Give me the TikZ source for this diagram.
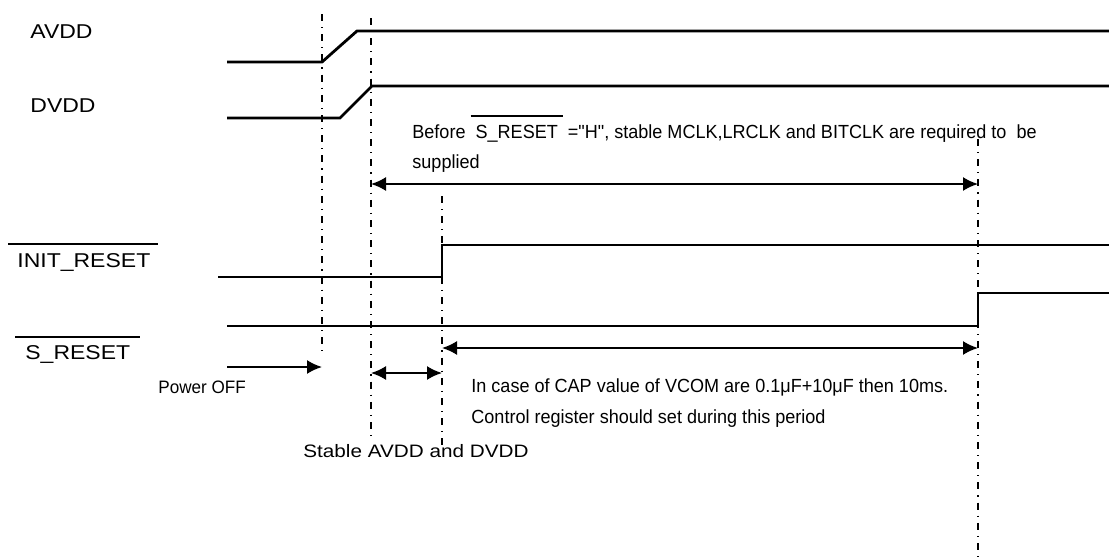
\documentclass[tikz,border=0pt]{standalone}
\usepackage{fontspec}
\setmainfont{Liberation Sans}
\newfontfamily\widesans[FakeStretch=1.15]{Liberation Sans}
\newfontfamily\narrowsans[FakeStretch=0.95]{Liberation Sans}
\usetikzlibrary{arrows.meta}
\newcommand{\barred}[1]{\leavevmode\vbox{\hrule height 0.8pt\kern 4pt\hbox{#1}}}

\begin{document}
\begin{tikzpicture}[x=0.5pt, y=-0.5pt, >={Latex[length=7.5pt,width=7pt]}]
	\tikzstyle{signal} = [line width=1.4pt];
	\tikzstyle{marker} = [line width=0.9pt, dash pattern=on 3.5pt off 3pt on 0.6pt off 3pt];
	\tikzstyle{span} = [line width=0.9pt];
	\tikzstyle{sig name} = [font=\widesans\fontsize{10}{12}\selectfont, inner sep=0pt, anchor=base west];
	\tikzstyle{note} = [font=\narrowsans\fontsize{9.5}{11}\selectfont, inner sep=0pt, anchor=base west];
	\tikzstyle{bar} = [line width=1pt];

	\useasboundingbox (0,0) rectangle (1109,557);

	% signal names
	\node [sig name] (avdd)   at (30,39)  {AVDD};
	\node [sig name] (dvdd)   at (30,112) {DVDD};
	\node [sig name] (init)   at (17,267) {INIT\_RESET};
	\node [sig name] (sreset) at (25,359) {S\_RESET};
	\draw [bar] ([xshift=-4.5pt,yshift=4.5pt]init.north west) -- ([xshift=3.5pt,yshift=4.5pt]init.north east);
	\draw [bar] ([xshift=-5pt,yshift=4pt]sreset.north west) -- ([xshift=4.5pt,yshift=4pt]sreset.north east);

	% waveforms
	\draw [signal] (227,62)  -- (322,62)  -- (357,31)  -- (1109,31);
	\draw [signal] (227,118) -- (340,118) -- (372,86)  -- (1109,86);
	\draw [signal] (218,277) -- (442,277) -- (442,245) -- (1109,245);
	\draw [signal] (227,326) -- (978,326) -- (978,293) -- (1109,293);

	% timing marks
	\coordinate (m1 top) at (322,14);  \coordinate (m1 bot) at (322,352);
	\coordinate (m2 top) at (371,18);  \coordinate (m2 bot) at (371,440);
	\coordinate (m3 top) at (442,196); \coordinate (m3 bot) at (442,447);
	\coordinate (m4 top) at (978,139); \coordinate (m4 bot) at (978,557);
	\draw [marker] (m1 top) -- (m1 bot);
	\draw [marker] (m2 top) -- (m2 bot);
	\draw [marker] (m3 top) -- (m3 bot);
	\draw [marker] (m4 top) -- (m4 bot);

	% spans
	\coordinate (clk from) at (371,184); \coordinate (clk to) at (978,184);
	\coordinate (off from) at (227,367); \coordinate (off to) at (322,367);
	\coordinate (stb from) at (371,373); \coordinate (stb to) at (442,373);
	\coordinate (reg from) at (442,348); \coordinate (reg to) at (978,348);
	\path [span] (clk from) edge [<->] (clk to)
	             (off from) edge [->]  (off to)
	             (stb from) edge [<->] (stb to)
	             (reg from) edge [<->] (reg to);

	% notes
	\node [note] (before)   at (412,138) {Before \barred{\ S\_RESET\ } ="H", stable MCLK,LRCLK and BITCLK are required to\ \ be};
	\node [note] (supplied) at (412,168) {supplied};
	\node [note] (cap)      at (471,392) {In case of CAP value of VCOM are 0.1μF+10μF then 10ms.};
	\node [note] (ctrl)     at (471,423) {Control register should set during this period};
	\node [note, font=\narrowsans\fontsize{9}{11}\selectfont] (off) at (158,393) {Power OFF};
	\node [sig name, font=\widesans\fontsize{9}{11}\selectfont] (stable) at (303,457) {Stable AVDD and DVDD};
\end{tikzpicture}
\end{document}
